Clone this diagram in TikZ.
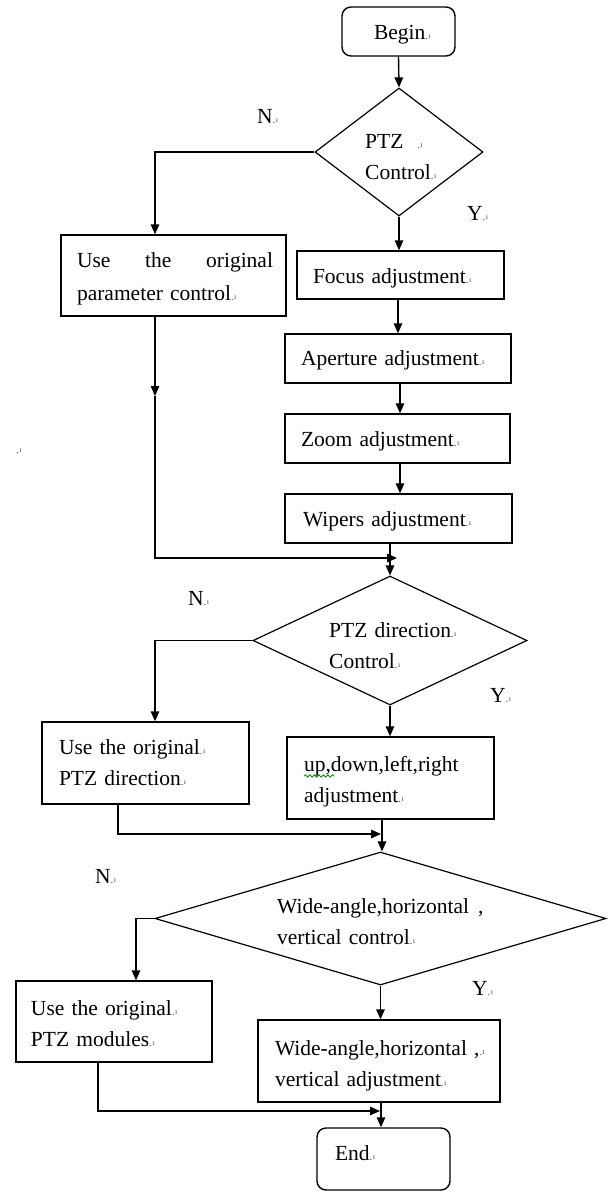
\documentclass[tikz,border=0pt]{standalone}
\usepackage{fontspec}
\setmainfont{Liberation Serif}
\usetikzlibrary{arrows.meta,shapes.geometric,decorations.pathmorphing}
\newcommand{\pmk}{{\color{black!70}\fontsize{11}{11}\selectfont.\kern0.4pt\raisebox{0.5pt}{\fontsize{8}{8}\selectfont ı}}}
\tikzset{
  txtfont/.style={font=\fontsize{21.5}{31}\selectfont},
  proc/.style={draw, line width=1.4pt, rectangle, inner xsep=2pt, inner ysep=0pt, align=left, txtfont},
  term/.style={proc, rounded corners=9pt},
  dec/.style={draw, line width=1.2pt, diamond, inner sep=0pt},
  lbl/.style={inner sep=0pt, anchor=base west, txtfont},
  dtext/.style={inner sep=0pt, anchor=north west, align=left, text height=16pt, txtfont},
  conn/.style={line width=1.4pt},
  arr/.style={conn, -{Triangle[length=10pt,width=8.5pt]}},
}
% #1 style #2 name #3 L #4 R #5 T #6 B #7 text x #8 first baseline #9 text
\newcommand{\mkbox}[9]{%
  \pgfmathsetmacro{\bxW}{#4-#3}%
  \pgfmathsetmacro{\bxH}{#6-#5}%
  \pgfmathsetmacro{\bxX}{(#3+#4)/2}%
  \pgfmathsetmacro{\bxY}{(#5+#6)/2}%
  \pgfmathsetmacro{\bxTW}{#4-#3-4}%
  \pgfmathsetmacro{\bxL}{#7-#3-2}%
  \pgfmathsetmacro{\bxh}{#8-#5}%
  \pgfmathsetmacro{\bxd}{#6-#8}%
  \node[#1, minimum width=\bxW pt, minimum height=\bxH pt, text width=\bxTW pt,
        text height=\bxh pt, text depth=\bxd pt] (#2) at (\bxX,\bxY) {\leftskip=\bxL pt\relax #9\par};%
}
\begin{document}
\begin{tikzpicture}[x=1pt,y=-1pt]
\useasboundingbox (0,0) rectangle (611,1192);

% boxes
\mkbox{term}{begin}{342}{455}{7}{56}{374}{39}{Begin\pmk}
\mkbox{proc}{param}{61}{286}{235}{316}{77}{267}{\leavevmode\hbox to 196pt{Use\hfil the\hfil original}\\[2pt]parameter control\pmk}
\mkbox{proc}{focus}{297}{504}{251}{299}{313}{283}{Focus adjustment\pmk}
\mkbox{proc}{aper}{285}{511}{334}{383}{301}{365}{Aperture adjustment\pmk}
\mkbox{proc}{zoomb}{285}{510}{414}{463}{301}{446}{Zoom adjustment\pmk}
\mkbox{proc}{wipers}{285}{512}{494}{543}{303}{526}{Wipers adjustment\pmk}
\mkbox{proc}{dirorig}{42}{249}{722}{804}{59}{754}{Use the original\pmk\\PTZ direction\pmk}
\mkbox{proc}{updown}{287}{494}{737}{819}{304}{771}{up,down,left,right\\adjustment\pmk}
\mkbox{proc}{modules}{16}{212}{981}{1062}{31}{1015}{Use the original\pmk\\PTZ modules\pmk}
\mkbox{proc}{wideadj}{258}{500}{1020}{1102}{275}{1055}{Wide-angle,horizontal ,\pmk\\vertical adjustment\pmk}
\mkbox{term}{endb}{317}{450}{1128}{1190}{335}{1160}{End\pmk}

% decisions
\node[dec, minimum width=168pt, minimum height=128pt] (d1) at (399,152) {};
\node[dec, minimum width=274pt, minimum height=129pt] (d2) at (390,640.5) {};
\node[dec, minimum width=451pt, minimum height=133pt] (d3) at (380.5,918.5) {};
\node[dtext, text width=90pt] (d1t) at (365,132) {PTZ\hspace{14pt}\pmk\\Control\pmk};
\node[dtext, text width=160pt] (d2t) at (329,621) {PTZ direction\pmk\\Control\pmk};
\node[dtext, text width=220pt] (d3t) at (277,897) {Wide-angle,horizontal\hspace{9pt},\\vertical control\pmk};

% labels
\node[lbl] (n1) at (257,123) {N\pmk};
\node[lbl] (y1) at (467,220) {Y\pmk};
\node[lbl] (n2) at (188,605) {N\pmk};
\node[lbl] (y2) at (490,702) {Y\pmk};
\node[lbl] (n3) at (95,883) {N\pmk};
\node[lbl] (y3) at (472,995) {Y\pmk};
\node[lbl] (stray) at (16,453) {\pmk};

% spell-check squiggle under "up,"
\draw[green!55!black, line width=0.8pt, decorate, decoration={snake, amplitude=1.2pt, segment length=4.5pt}] (304,776) -- (334,776);

% connectors
\draw[arr] (begin.south) -- (d1.north);
\coordinate (c1) at (155,152);
\draw[arr] (d1.west) -- (c1) -- (c1 |- param.north);
\draw[arr] (d1.south) -- (d1.south |- focus.north);
\draw[arr] (aper.north |- focus.south) -- (aper.north);
\draw[arr] ([xshift=2pt]aper.south) -- ([xshift=2pt]aper.south |- zoomb.north);
\draw[arr] ([xshift=2.5pt]zoomb.south) -- ([xshift=2.5pt]zoomb.south |- wipers.north);
\draw[arr] (d2.north |- wipers.south) -- (d2.north);
\coordinate (m1) at (155,396);
\coordinate (j1) at (155,558);
\draw[arr] (c1 |- param.south) -- (m1);
\draw[arr] (m1) -- (j1) -- ([xshift=7pt]d2.north |- j1);

\coordinate (c2) at (155,640.5);
\draw[arr] (d2.west) -- (c2) -- (c2 |- dirorig.north);
\draw[arr] (d2.south) -- (d2.south |- updown.north);
\coordinate (v2) at (382,834);
\coordinate (j2) at (118,834);
\draw[arr] (v2 |- updown.south) -- (v2 |- d3.north);
\draw[arr] (j2 |- dirorig.south) -- (j2) -- ([xshift=-1pt]v2);

\coordinate (c3) at (136,918.5);
\draw[arr] (d3.west) -- (c3) -- (c3 |- modules.north);
\draw[arr] (d3.south) -- (d3.south |- wideadj.north);
\coordinate (v3) at (381,1111);
\coordinate (j3) at (98,1111);
\draw[arr] (v3 |- wideadj.south) -- (v3 |- endb.north);
\draw[arr] (j3 |- modules.south) -- (j3) -- ([xshift=-1pt]v3);
\end{tikzpicture}
\end{document}
